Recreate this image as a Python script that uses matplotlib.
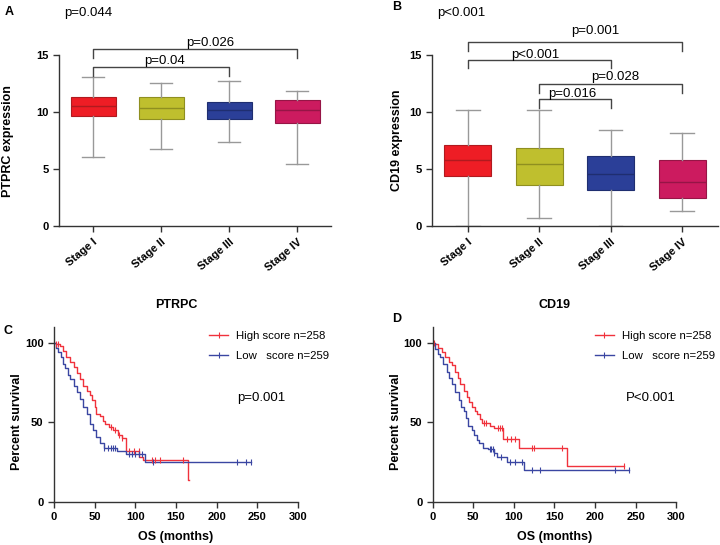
import numpy as np
import matplotlib
matplotlib.use("Agg")
import matplotlib.pyplot as plt
from matplotlib.lines import Line2D

plt.rcParams['font.family'] = ['Liberation Sans', 'DejaVu Sans']

# box plot data
stages = ['Stage I', 'Stage II', 'Stage III', 'Stage IV']
box_colors = ['#EE1D25', '#BFBF2E', '#2B3F98', '#CC1B5F']
edge_colors = ['#B01A1F', '#8F8F20', '#1F2E70', '#961546']

ptprc_med = [10.5, 10.32, 10.15, 10.18]
ptprc_q1 = [9.62, 9.39, 9.39, 9.04]
ptprc_q3 = [11.32, 11.29, 10.88, 11.05]
ptprc_lo = [6.05, 6.73, 7.37, 5.41]
ptprc_hi = [13.04, 12.51, 12.69, 11.87]

cd19_med = [5.76, 5.41, 4.53, 3.83]
cd19_q1 = [4.44, 3.65, 3.19, 2.49]
cd19_q3 = [7.08, 6.81, 6.14, 5.76]
cd19_lo = [0.0, 0.76, 0.0, 1.29]
cd19_hi = [10.18, 10.18, 8.39, 8.13]

# brackets: (from, to, line height, tip height, label, label x, label y)
ptprc_brackets = [(1, 3, 13.92, 13.16, 'p=0.04', 2.05, 13.95),
                  (1, 4, 15.5, 14.7, 'p=0.026', 2.72, 15.55)]
cd19_brackets = [(1, 4, 16.17, 15.38, 'p=0.001', 2.79, 16.6),
                 (1, 3, 14.56, 13.83, 'p<0.001', 1.94, 14.5),
                 (2, 4, 12.49, 11.7, 'p=0.028', 3.07, 12.55),
                 (2, 3, 11.11, 10.32, 'p=0.016', 2.46, 11.1)]

# survival curves (time in months, percent survival)
c_high_t = [0, 3, 7, 11, 15, 20, 24, 28, 32, 36, 40, 44, 47, 50, 52, 56, 60, 63, 68, 73, 79, 83, 88, 105, 110, 165, 166]
c_high_s = [100, 99, 98, 95, 91, 88, 85, 81, 77, 73, 70, 67, 64, 60, 55, 54, 51, 49, 47, 45, 42, 40, 32, 28.5, 26.5, 13.8, 13.8]
c_low_t = [0, 2, 5, 8, 11, 14, 17, 20, 24, 28, 32, 36, 40, 44, 48, 52, 56, 61, 77, 89, 112, 242]
c_low_s = [100, 97, 94, 91, 87, 84, 80, 77, 73, 69, 65, 60, 55, 49, 45, 41, 37, 34, 32, 30, 25, 25]
c_high_cens = [3, 5, 70, 75, 80, 84, 92, 98, 104, 121, 124, 130, 158]
c_low_cens = [62, 66, 70, 73, 75, 92, 96, 100, 104, 108, 122, 225, 236, 242]

d_high_t = [0, 3, 7, 11, 15, 20, 24, 28, 31, 34, 38, 42, 45, 48, 52, 55, 58, 61, 71, 75, 87, 106, 166, 236]
d_high_s = [100, 99, 97, 94, 91, 88, 86, 82, 78, 74, 70, 66, 63, 60, 57, 55, 52, 49.5, 48, 46.4, 39.4, 34.2, 22.8, 22.8]
d_low_t = [0, 3, 6, 9, 13, 17, 20, 24, 28, 32, 35, 38, 41, 44, 48, 51, 54, 57, 62, 68, 75, 79, 91, 112, 242]
d_low_s = [100, 96, 93, 91, 87, 82, 78, 74, 69, 64, 60, 57, 53, 48, 45, 42, 39, 37, 34, 33, 31, 28.5, 25.4, 20.1, 20.1]
d_high_cens = [2, 63, 66, 80, 83, 85, 92, 96, 101, 122, 125, 159, 236]
d_low_cens = [70, 72, 74, 76, 84, 95, 101, 110, 123, 132, 225, 242]

km_red = '#F0323C'
km_blue = '#3A46A2'
spine_col = '#333333'


def style_axes(ax):
    for s in ['top', 'right']:
        ax.spines[s].set_visible(False)
    for s in ['left', 'bottom']:
        ax.spines[s].set_color(spine_col)
        ax.spines[s].set_linewidth(1.0)
    ax.tick_params(direction='out', length=4, width=1, color=spine_col, labelsize=8)
    for lab in ax.get_xticklabels() + ax.get_yticklabels():
        lab.set_fontweight('bold')


def box_panel(ax, med, q1, q3, lo, hi, brackets, ylab):
    stats = []
    for i in range(len(stages)):
        stats.append({'med': med[i], 'q1': q1[i], 'q3': q3[i],
                      'whislo': lo[i], 'whishi': hi[i], 'fliers': []})
    bp = ax.bxp(stats, positions=[1, 2, 3, 4], widths=0.66, patch_artist=True,
                showfliers=False,
                whiskerprops=dict(color='#999999', lw=1),
                capprops=dict(color='#999999', lw=1),
                medianprops=dict(color='#333333', lw=1))
    for i, b in enumerate(bp['boxes']):
        b.set_facecolor(box_colors[i])
        b.set_edgecolor(edge_colors[i])
        b.set_linewidth(0.8)
        bp['medians'][i].set_color(edge_colors[i])
    ax.set_xlim(0.5, 4.5)
    ax.set_ylim(0, 15)
    ax.set_yticks([0, 5, 10, 15])
    ax.set_xticks([1, 2, 3, 4])
    ax.set_xticklabels(stages, rotation=40, ha='right', rotation_mode='anchor')
    style_axes(ax)
    for x1, x2, yl, yt, lab, lx, ly in brackets:
        ax.plot([x1, x1, x2, x2], [yt, yl, yl, yt], color='#444444', lw=1, clip_on=False)
        ax.text(lx, ly, lab, ha='center', va='bottom', fontsize=9.5)
    ax.set_ylabel(ylab, fontsize=9, fontweight='bold')


def step_value(t, s, x):
    idx = np.searchsorted(t, x, side='right') - 1
    return np.array(s)[idx]


def km_panel(ax, ht, hs, hc, lt, ls, lc, ptext, ptx, title):
    ax.plot(ht, hs, drawstyle='steps-post', color=km_red, lw=1)
    ax.plot(lt, ls, drawstyle='steps-post', color=km_blue, lw=1)
    ax.plot(hc, step_value(ht, hs, hc), ls='none', marker='|', ms=5, mew=0.8, color=km_red)
    ax.plot(lc, step_value(lt, ls, lc), ls='none', marker='|', ms=5, mew=0.8, color=km_blue)
    ax.set_xlim(0, 300)
    ax.set_ylim(0, 110)
    ax.set_xticks([0, 50, 100, 150, 200, 250, 300])
    ax.set_yticks([0, 50, 100])
    style_axes(ax)
    ax.set_ylabel('Percent survival', fontsize=9, fontweight='bold')
    ax.set_xlabel('OS (months)', fontsize=9, fontweight='bold')
    ax.yaxis.set_label_coords(-0.128, 0.46)
    ax.xaxis.set_label_coords(0.5, -0.165)
    ax.text(ptx, 65.4, ptext, fontsize=9.5, va='center')
    ax.set_title(title, fontsize=9, fontweight='bold', pad=14)


fig = plt.figure(figsize=(7.2, 5.45), dpi=100)

axA = fig.add_axes([0.082, 0.585, 0.378, 0.314])
box_panel(axA, ptprc_med, ptprc_q1, ptprc_q3, ptprc_lo, ptprc_hi, ptprc_brackets, 'PTPRC expression')
axA.yaxis.set_label_coords(-0.167, 0.5)

axB = fig.add_axes([0.600, 0.585, 0.397, 0.314])
box_panel(axB, cd19_med, cd19_q1, cd19_q3, cd19_lo, cd19_hi, cd19_brackets, 'CD19 expression')
axB.yaxis.set_label_coords(-0.103, 0.5)

axC = fig.add_axes([0.075, 0.079, 0.339, 0.321])
km_panel(axC, c_high_t, c_high_s, c_high_cens, c_low_t, c_low_s, c_low_cens, 'p=0.001', 225, 'PTRPC')

axD = fig.add_axes([0.601, 0.079, 0.338, 0.321])
km_panel(axD, d_high_t, d_high_s, d_high_cens, d_low_t, d_low_s, d_low_cens, 'P<0.001', 238, 'CD19')
axD.yaxis.set_label_coords(-0.125, 0.46)

handles = [Line2D([], [], color=km_red, lw=1, marker='|', ms=5, mew=0.8),
           Line2D([], [], color=km_blue, lw=1, marker='|', ms=5, mew=0.8)]
labels = ['High score n=258', 'Low   score n=259']
for ax, x0 in [(axC, 0.635), (axD, 0.665)]:
    ax.legend(handles, labels, loc='upper left', bbox_to_anchor=(x0, 0.975), frameon=False,
              fontsize=8.2, handlelength=1.7, handletextpad=0.7, labelspacing=0.85,
              borderpad=0, borderaxespad=0)

fig.text(0.007, 0.978, 'A', fontsize=9, fontweight='bold', va='center')
fig.text(0.122, 0.976, 'p=0.044', fontsize=9.5, va='center', ha='center')
fig.text(0.545, 0.987, 'B', fontsize=9, fontweight='bold', va='center')
fig.text(0.641, 0.976, 'p<0.001', fontsize=9.5, va='center', ha='center')
fig.text(0.005, 0.393, 'C', fontsize=9, fontweight='bold', va='center')
fig.text(0.545, 0.415, 'D', fontsize=9, fontweight='bold', va='center')

fig.savefig('out.png', dpi=100)
